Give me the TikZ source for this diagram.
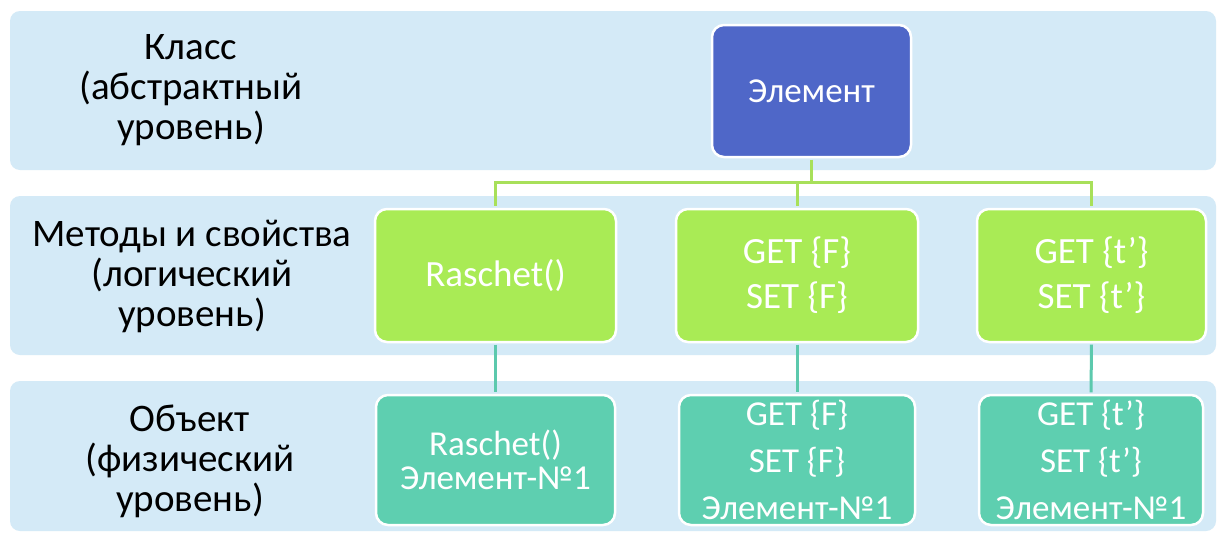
\documentclass[tikz,border=0pt]{standalone}
\usepackage{fontspec}
\setmainfont{Carlito}
\definecolor{bandc}{HTML}{D4EAF7}
\definecolor{elc}{HTML}{4F67C8}
\definecolor{grc}{HTML}{A9EB55}
\definecolor{tlc}{HTML}{5ECFB0}
\definecolor{grl}{HTML}{A8E05A}
\definecolor{tll}{HTML}{5CC9AD}
\tikzset{
  band/.style={fill=bandc, draw=none, rounded corners=10pt},
  boxbase/.style={draw=white, line width=2.5pt, rounded corners=12pt, text=white, align=center, inner sep=0pt},
  elbox/.style={boxbase, fill=elc, minimum width=199pt, minimum height=132pt, font=\fontsize{35}{40}\selectfont},
  grbox/.style={boxbase, fill=grc, minimum height=133pt, font=\fontsize{37}{45}\selectfont},
  tlbox/.style={boxbase, fill=tlc, minimum height=130pt},
  lbl/.style={align=center, text=black, font=\fontsize{39}{40}\selectfont, inner sep=0pt},
  gline/.style={draw=grl, line width=3pt, shorten <=1.3pt, shorten >=1.3pt},
  tline/.style={draw=tll, line width=3pt, shorten <=1.3pt, shorten >=1.3pt}
}
\begin{document}
\begin{tikzpicture}[x=1pt,y=-1pt]
\useasboundingbox (0,0) rectangle (1218,533);
\fill[white] (0,0) rectangle (1218,533);
% bands
\path[band] (10,11) rectangle (1216,170);
\path[band] (10,196) rectangle (1216,355);
\path[band] (10,381) rectangle (1216,531);
% labels
\node[lbl] (l1) at (191,90) {Класс\\(абстрактный\\уровень)};
\node[lbl] (l2) at (192,276) {Методы и свойства\\(логический\\уровень)};
\node[lbl] (l3) at (190,461) {Объект\\(физический\\уровень)};
% nodes
\node[elbox] (el) at (811.5,91) {Элемент};
\node[grbox, minimum width=241pt] (b1) at (495.5,275.5) {Raschet()};
\node[grbox, minimum width=242pt] (b2) at (797,275.5) {GET \{F\}\\SET \{F\}};
\node[grbox, minimum width=229pt] (b3) at (1091.5,275.5) {GET \{t’\}\\SET \{t’\}};
\node[tlbox, minimum width=239pt, font=\fontsize{35}{34}\selectfont] (c1) at (495.5,460) {Raschet()\\Элемент-№1};
\node[tlbox, minimum width=236pt, font=\fontsize{35}{47}\selectfont] (c2) at (797,460) {GET \{F\}\\SET \{F\}\\Элемент-№1};
\node[tlbox, minimum width=224pt, font=\fontsize{35}{47}\selectfont] (c3) at (1091,460) {GET \{t’\}\\SET \{t’\}\\Элемент-№1};
% connectors
\coordinate (j) at (811.5,182);
\coordinate (jl) at (495.5,182);
\coordinate (jr) at (1091.5,182);
\draw[gline] (el.south) -- (j);
\draw[draw=grl, line width=3pt, line cap=rect] (jl) -- (jr);
\draw[gline, shorten <=0pt] (jl) -- (b1.north);
\draw[gline, shorten <=0pt] (b2.north |- j) -- (b2.north);
\draw[gline, shorten <=0pt] (jr) -- (b3.north);
\draw[tline] (b1.south) -- (c1.north);
\draw[tline] (b2.south) -- (c2.north);
\draw[tline] (b3.south) -- (c3.north);
\end{tikzpicture}
\end{document}
